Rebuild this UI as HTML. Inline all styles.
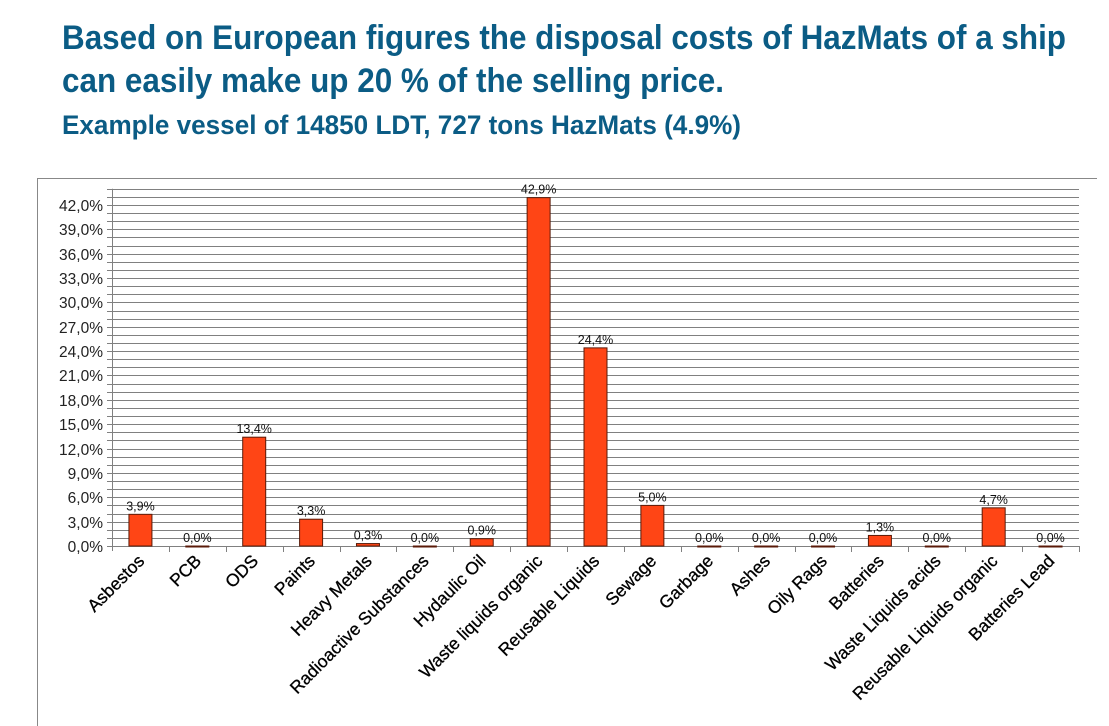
<!DOCTYPE html>
<html><head><meta charset="utf-8"><style>
html,body{margin:0;padding:0;background:#fff;}
svg{display:block;}
</style></head><body>
<svg width="1109" height="726" xmlns="http://www.w3.org/2000/svg" font-family="Liberation Sans, Arial, sans-serif">
<rect width="1109" height="726" fill="#fff"/>
<g fill="#0b5c85" font-weight="bold">
<text x="62" y="49" font-size="34" textLength="1004" lengthAdjust="spacingAndGlyphs">Based on European figures the disposal costs of HazMats of a ship</text>
<text x="62" y="92" font-size="34" textLength="662" lengthAdjust="spacingAndGlyphs">can easily make up 20 % of the selling price.</text>
<text x="62" y="134" font-size="27" textLength="679" lengthAdjust="spacingAndGlyphs">Example vessel of 14850 LDT, 727 tons HazMats (4.9%)</text>
</g>
<line x1="37" y1="178.5" x2="1097" y2="178.5" stroke="#888" stroke-width="1"/>
<line x1="37.5" y1="178" x2="37.5" y2="726" stroke="#888" stroke-width="1"/>
<g id="grid" stroke="#808080" stroke-width="1"></g>
<g id="ylab" font-size="15.5" fill="#222" text-anchor="end"></g>
<g id="bars"></g>
<g id="xlab" font-size="17.5" fill="#000" stroke="#000" stroke-width="0.3"></g>
<script>
(function(){
var ns="http://www.w3.org/2000/svg";
function el(t,a,p,txt){var e=document.createElementNS(ns,t);for(var k in a)e.setAttribute(k,a[k]);if(txt!=null)e.textContent=txt;document.getElementById(p).appendChild(e);return e;}
var L=112,R=1079,Y0=546,S=8.12;
for(var i=0;i<=44;i++){var y=Math.round(Y0-i*S)+0.5;
 el('line',{x1:L-5,y1:y,x2:R,y2:y},'grid');
 if(i%3==0&&i<=42) el('text',{x:103,y:y+5.5},'ylab',i.toFixed(1).replace('.',',')+'%');}
el('line',{x1:L+0.5,y1:Y0-44*S,x2:L+0.5,y2:Y0+5},'grid');
var names=["Asbestos","PCB","ODS","Paints","Heavy Metals","Radioactive Substances","Hydaulic Oil","Waste liquids organic","Reusable Liquids","Sewage","Garbage","Ashes","Oily Rags","Batteries","Waste Liquids acids","Reusable Liquids organic","Batteries Lead"];
var v=[3.9,0,13.4,3.3,0.3,0,0.9,42.9,24.4,5.0,0,0,0,1.3,0,4.7,0];
var w=(R-L)/17;
for(var i=0;i<17;i++){var cx=L+(i+0.5)*w;
 var tx=Math.round(L+(i+1)*w)+0.5; el('line',{x1:tx,y1:Y0,x2:tx,y2:Y0+6},'grid');
 var h=v[i]*S; var top=Y0-h;
 el('rect',{x:cx-11.5,y:top,width:23,height:Math.max(h,1),fill:'#ff4515',stroke:'#5a1a08','stroke-width':1},'bars');
 el('text',{x:cx,y:top-4,'font-size':12.5,'text-anchor':'middle',fill:'#111'},'bars',v[i].toFixed(1).replace('.',',')+'%');
 var ax=cx+5,ay=562;
 el('text',{x:ax,y:ay,'text-anchor':'end',transform:'rotate(-45 '+ax+' '+ay+')'},'xlab',names[i]);
}
})();
</script>
</svg>
</body></html>
